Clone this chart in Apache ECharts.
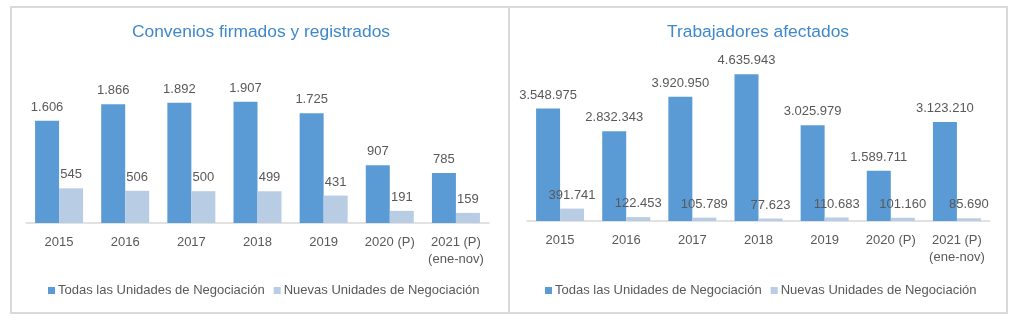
<!DOCTYPE html>
<html>
<head>
<meta charset="utf-8">
<script src="https://cdn.jsdelivr.net/npm/echarts@6/dist/echarts.min.js"></script>
<style>
html,body{margin:0;padding:0;background:#fff;}
#c{width:1024px;height:322px;}
</style>
</head>
<body>
<div id="c"></div>
<script>
var categories = ['2015', '2016', '2017', '2018', '2019', '2020 (P)', '2021 (P)\n(ene-nov)'];
var seriesNames = ['Todas las Unidades de Negociación', 'Nuevas Unidades de Negociación'];
var convTodas = [1606, 1866, 1892, 1907, 1725, 907, 785];
var convNuevas = [545, 506, 500, 499, 431, 191, 159];
var trabTodas = [3548975, 2832343, 3920950, 4635943, 3025979, 1589711, 3123210];
var trabNuevas = [391741, 122453, 105789, 77623, 110683, 101160, 85690];
var titles = ['Convenios firmados y registrados', 'Trabajadores afectados'];

var FONT = 'Liberation Sans';
var TXT = '#595959';
var C1 = '#5b9bd5';
var C2 = '#b8cce4';

function fmt(v) {
  return String(v).replace(/\B(?=(\d{3})+(?!\d))/g, '.');
}

function bar(name, data, color, xi) {
  return {
    type: 'bar', name: name, data: data, xAxisIndex: xi, yAxisIndex: xi,
    barWidth: 24, barGap: '0%',
    itemStyle: { color: color },
    label: {
      show: true, position: 'top', distance: 7,
      fontFamily: FONT, fontSize: 13, color: TXT,
      formatter: function (p) { return fmt(p.value); }
    },
    emphasis: { disabled: true }
  };
}

function xAx(gi) {
  return {
    type: 'category', gridIndex: gi, data: categories,
    axisTick: { show: false },
    axisLine: { lineStyle: { color: '#d9d9d9', width: 1.5 } },
    axisLabel: { fontFamily: FONT, fontSize: 13, color: TXT, margin: 11, lineHeight: 17, interval: 0 }
  };
}

function leg(x) {
  return {
    left: x, top: 279, padding: 5, icon: 'rect', itemWidth: 7, itemHeight: 7, itemGap: 9,
    data: seriesNames,
    textStyle: { fontFamily: FONT, fontSize: 13, color: TXT, padding: [0, 0, 0, -2] }
  };
}

var chart = echarts.init(document.getElementById('c'), null, { renderer: 'canvas' });
chart.setOption({
  animation: false,
  backgroundColor: '#fff',
  grid: [
    { left: 26, width: 463, top: 64, bottom: 99 },
    { left: 527, width: 463, top: 31, bottom: 101 }
  ],
  xAxis: [xAx(0), xAx(1)],
  yAxis: [
    { type: 'value', gridIndex: 0, min: 0, max: 2500, show: false, splitLine: { show: false } },
    { type: 'value', gridIndex: 1, min: 0, max: 6000000, show: false, splitLine: { show: false } }
  ],
  legend: [leg(43), leg(540)],
  graphic: [
    { type: 'rect', shape: { x: 11, y: 7, width: 996, height: 306 }, style: { fill: null, stroke: '#d9d9d9', lineWidth: 2 }, silent: true },
    { type: 'line', shape: { x1: 509, y1: 7, x2: 509, y2: 313 }, style: { stroke: '#d9d9d9', lineWidth: 2 }, silent: true },
    { type: 'text', x: 261, y: 32, style: { text: titles[0], fill: '#3e88cc', font: '17.4px "Liberation Sans"', textAlign: 'center', textVerticalAlign: 'middle' }, silent: true },
    { type: 'text', x: 758, y: 32, style: { text: titles[1], fill: '#3e88cc', font: '17.4px "Liberation Sans"', textAlign: 'center', textVerticalAlign: 'middle' }, silent: true }
  ],
  series: [
    bar(seriesNames[0], convTodas, C1, 0),
    bar(seriesNames[1], convNuevas, C2, 0),
    bar(seriesNames[0], trabTodas, C1, 1),
    bar(seriesNames[1], trabNuevas, C2, 1)
  ]
});
</script>
</body>
</html>
